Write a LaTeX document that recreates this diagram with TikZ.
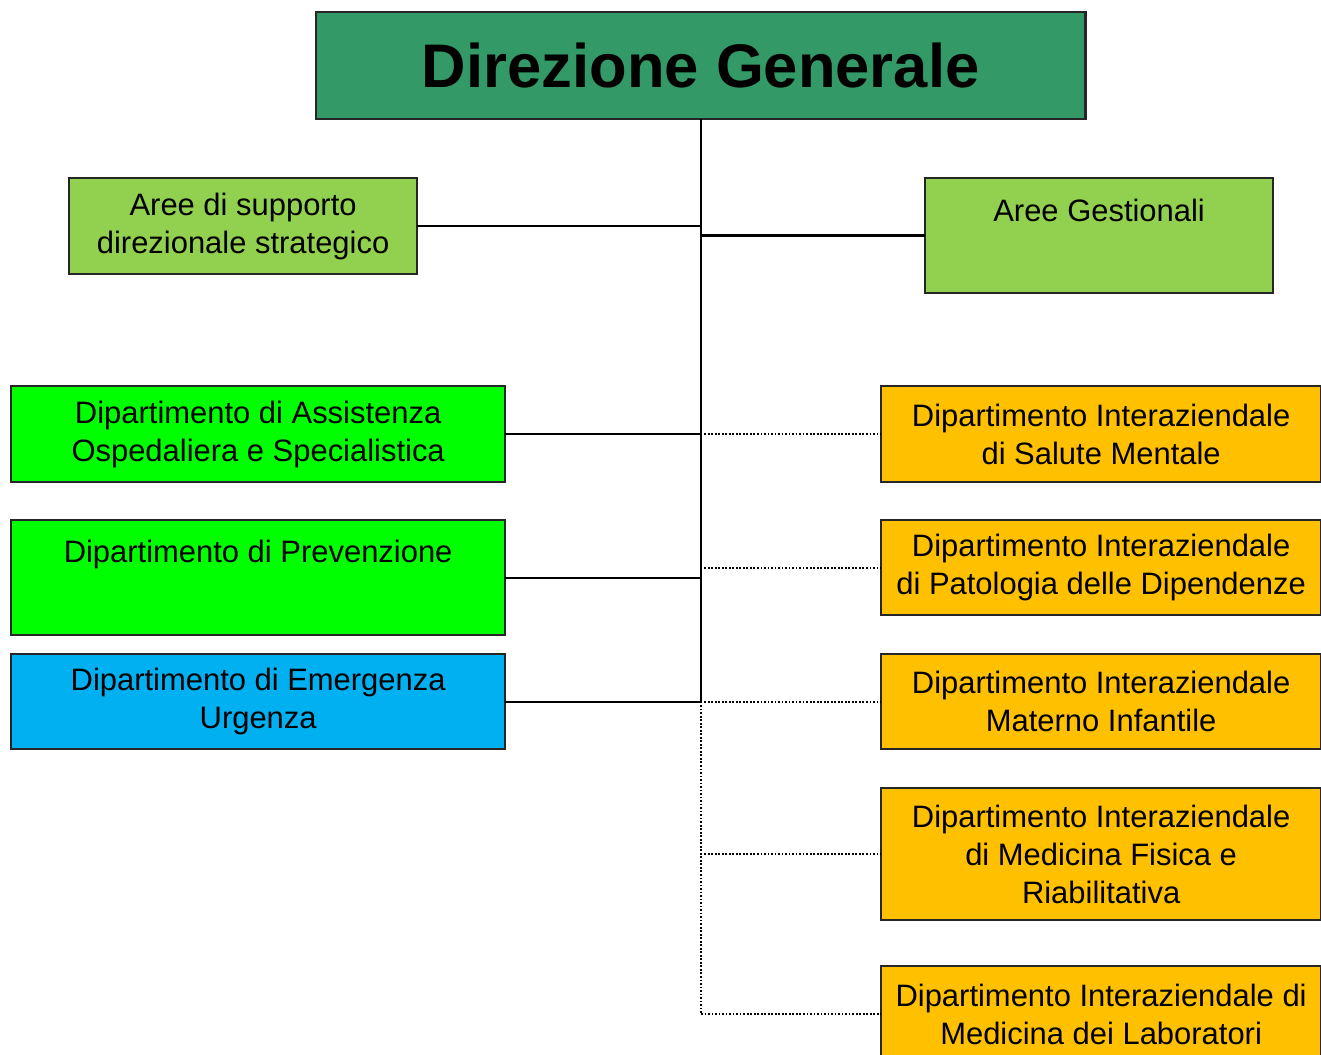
\documentclass[tikz,border=0pt]{standalone}
\usepackage{fontspec}
\setmainfont{Liberation Sans}
\usepackage{xcolor}
\usepackage{tikz}
\usetikzlibrary{positioning}

\definecolor{dgteal}{RGB}{51,153,102}
\definecolor{areegreen}{RGB}{146,208,80}
\definecolor{dipgreen}{RGB}{0,255,0}
\definecolor{dipblue}{RGB}{0,176,240}
\definecolor{diporange}{RGB}{255,192,0}

\begin{document}
\begin{tikzpicture}
    [x=0.01cm, y=0.01cm,
      % Stil für alle Kästen
      box/.style={rectangle, draw=black!85, line width=0.6pt, inner sep=0pt, outer sep=0pt, align=center, font=\fontsize{8.8}{10.8}\selectfont},
      % Stil für die Direzione
      dg/.style={box, fill=dgteal, minimum width=7.69cm, minimum height=1.07cm, font=\fontsize{17.5}{20}\selectfont\bfseries},
      % Stil für die Aree
      aree/.style={box, fill=areegreen, minimum width=3.48cm},
      % Stil für die Dipartimenti
      dipl/.style={box, fill=dipgreen, minimum width=4.94cm, minimum height=0.96cm},
      dipb/.style={box, fill=dipblue, minimum width=4.94cm, minimum height=0.95cm},
      dipr/.style={box, fill=diporange, minimum width=4.40cm, minimum height=0.96cm},
      % Stil für Linien
      solidline/.style={line width=0.6pt},
      dotline/.style={line width=0.6pt, dash pattern=on 0.5pt off 0.5pt},
      node distance=3.8mm]
    \useasboundingbox (0,0) rectangle (1321,-1055);
    \clip (0,0) rectangle (1321,-1055);

    % Knoten
    \node[dg, anchor=north west] (direzione) at (316,-12) {Direzione Generale};
    \node[aree, anchor=north west, minimum height=0.96cm] (supporto) at (69,-178) {Aree di supporto\\direzionale strategico};
    \node[aree, anchor=north west, text height=0.43cm, text depth=0.72cm] (gestionali) at (925,-178) {Aree Gestionali};

    \node[dipl, anchor=north west] (assistenza) at (11,-386) {Dipartimento di Assistenza\\Ospedaliera e Specialistica};
    \node[dipl, below=0.38cm of assistenza, minimum height=0pt, text height=0.42cm, text depth=0.73cm] (prevenzione) {Dipartimento di Prevenzione};
    \node[dipb, below=0.19cm of prevenzione] (emergenza) {Dipartimento di Emergenza\\Urgenza};

    \node[dipr, anchor=north west] (mentale) at (881,-386) {Dipartimento Interaziendale\\di Salute Mentale};
    \node[dipr, below=0.38cm of mentale, minimum height=0.95cm] (patologia) {Dipartimento Interaziendale\\di Patologia delle Dipendenze};
    \node[dipr, below=0.39cm of patologia, minimum height=0.95cm] (materno) {Dipartimento Interaziendale\\Materno Infantile};
    \node[dipr, below=0.39cm of materno, minimum height=1.32cm] (fisica) {Dipartimento Interaziendale\\di Medicina Fisica e\\Riabilitativa};
    \node[dipr, below=0.46cm of fisica] (laboratori) {Dipartimento Interaziendale di\\Medicina dei Laboratori};

    % Kanten
    \draw[solidline]
      (direzione.south) -- (direzione.south |- emergenza.east)
      (supporto.east) -- (supporto.east -| direzione.south)
      (gestionali.west) -- (gestionali.west -| direzione.south)
      (assistenza.east) -- (assistenza.east -| direzione.south)
      (prevenzione.east) -- (prevenzione.east -| direzione.south)
      (emergenza.east) -- (emergenza.east -| direzione.south);

    \draw[dotline]
      (mentale.west -| direzione.south) -- (mentale.west)
      (patologia.west -| direzione.south) -- (patologia.west)
      (materno.west -| direzione.south) -- (materno.west)
      (fisica.west -| direzione.south) -- (fisica.west);
    \draw[dotline] (direzione.south |- emergenza.east) -- (direzione.south |- laboratori.west) -- (laboratori.west);

  \end{tikzpicture}
\end{document}
